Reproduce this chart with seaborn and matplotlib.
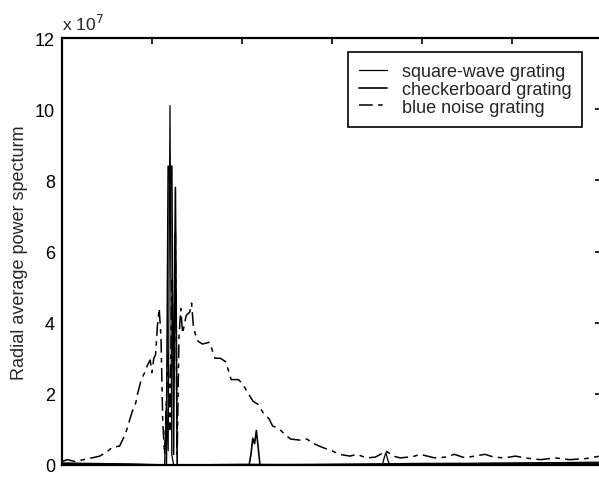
import matplotlib
matplotlib.use("Agg")
import matplotlib.pyplot as plt
import seaborn as sns
import pandas as pd
from matplotlib.ticker import MultipleLocator, NullFormatter

# Radial frequency (cycles) and radially averaged power (units of 1e7)
square_freq = [0, 20, 40, 57, 58, 59, 60, 61, 62, 100, 178, 179, 180, 181, 182, 240, 299]
square_pow = [0.05, 0.03, 0.02, 0.0, 1.7, 0.4, 10.1, 0.3, 0.0, 0.02, 0.0, 0.2, 0.35, 0.15, 0.0, 0.05, 0.08]

checker_freq = [0, 30, 58, 59, 60, 61, 62, 63, 64, 104, 105, 106, 107, 108, 109, 110, 200, 299]
checker_pow = [0.05, 0.03, 0.0, 8.4, 8.35, 8.4, 0.3, 7.8, 0.0, 0.0, 0.3, 0.75, 0.6, 0.97, 0.5, 0.0, 0.04, 0.05]

blue_freq = [0, 3, 7, 14, 21, 25, 28, 32, 35, 36, 39, 41, 42, 44, 46, 47, 49, 50, 51, 52,
             53, 54, 55, 56, 57, 58, 59, 60, 61, 62, 63, 64, 65, 66, 67, 69, 71, 72, 73, 75,
             78, 82, 85, 88, 91, 94, 98, 100, 103, 106, 109, 112, 115, 117, 121, 124, 127, 132, 136, 140,
             143, 147, 150, 154, 160, 164, 169, 174, 177, 180, 184, 188, 192, 196, 199, 203, 207, 213, 218, 224,
             229, 235, 240, 246, 252, 257, 266, 274, 282, 291, 299]
blue_pow = [0.1, 0.15, 0.1, 0.17, 0.25, 0.37, 0.5, 0.53, 0.85, 1.0, 1.5, 1.75, 2.0, 2.4, 2.6, 2.75, 2.95, 2.6, 3.0, 3.1,
            3.9, 4.4, 3.6, 1.2, 0.3, 1.8, 3.2, 1.0, 5.2, 2.4, 6.6, 0.3, 3.6, 4.4, 3.7, 4.2, 4.3, 4.55, 3.9, 3.5,
            3.4, 3.45, 3.0, 3.0, 2.9, 2.4, 2.4, 2.3, 2.05, 1.8, 1.7, 1.45, 1.3, 1.1, 1.0, 0.85, 0.73, 0.7, 0.73, 0.6,
            0.53, 0.45, 0.4, 0.3, 0.25, 0.3, 0.2, 0.22, 0.3, 0.4, 0.25, 0.2, 0.22, 0.25, 0.3, 0.25, 0.2, 0.22, 0.3, 0.2,
            0.25, 0.3, 0.22, 0.2, 0.25, 0.2, 0.15, 0.2, 0.15, 0.18, 0.25]

labels = ["square-wave grating", "checkerboard grating", "blue noise grating"]
y_ticks = [0, 2, 4, 6, 8, 10, 12]

sns.set_style("white")
plt.rcParams["font.family"] = ["Liberation Sans", "DejaVu Sans"]

fig = plt.figure(figsize=(5.99, 4.81), dpi=100)
ax = fig.add_axes([62 / 599, 15 / 481, 539 / 599, 427 / 481])

series = [
    (square_freq, square_pow, labels[0], "-", 0.9),
    (checker_freq, checker_pow, labels[1], "-", 1.2),
    (blue_freq, blue_pow, labels[2], (0, (9, 3.5, 3, 3.5)), 1.1),
]
for freq, power, name, ls, lw in series:
    df = pd.DataFrame({"freq": freq, "power": [p * 1e7 for p in power]})
    sns.lineplot(data=df, x="freq", y="power", ax=ax, color="black", linestyle=ls,
                 linewidth=lw, label=name, sort=False, estimator=None)

ax.set_xlim(0, 299.5)
ax.set_ylim(0, 12e7)
ax.xaxis.set_major_locator(MultipleLocator(50))
ax.xaxis.set_major_formatter(NullFormatter())
ax.set_yticks([t * 1e7 for t in y_ticks])
ax.set_yticklabels([str(t) for t in y_ticks])
ax.set_xlabel("")
ax.set_ylabel("Radial average power specturm", fontsize=13, labelpad=5)

ax.tick_params(direction="in", length=4, width=1.2, top=True, right=True,
               labelsize=13, pad=5, colors="black")
for sp in ax.spines.values():
    sp.set_visible(True)
    sp.set_color("black")
    sp.set_linewidth(1.6)

ax.text(0.0, 1.012, "x 10$^{7}$", transform=ax.transAxes, fontsize=12.5,
        ha="left", va="bottom")

leg = ax.legend(loc="upper right", bbox_to_anchor=(0.965, 0.967), borderaxespad=0,
                fontsize=13, frameon=True, fancybox=False, handlelength=1.55,
                labelspacing=0.05, borderpad=0.6, handletextpad=0.8)
leg.get_frame().set_edgecolor("black")
leg.get_frame().set_linewidth(1.2)
leg.get_frame().set_alpha(1)

fig.savefig("out.png", dpi=100)
